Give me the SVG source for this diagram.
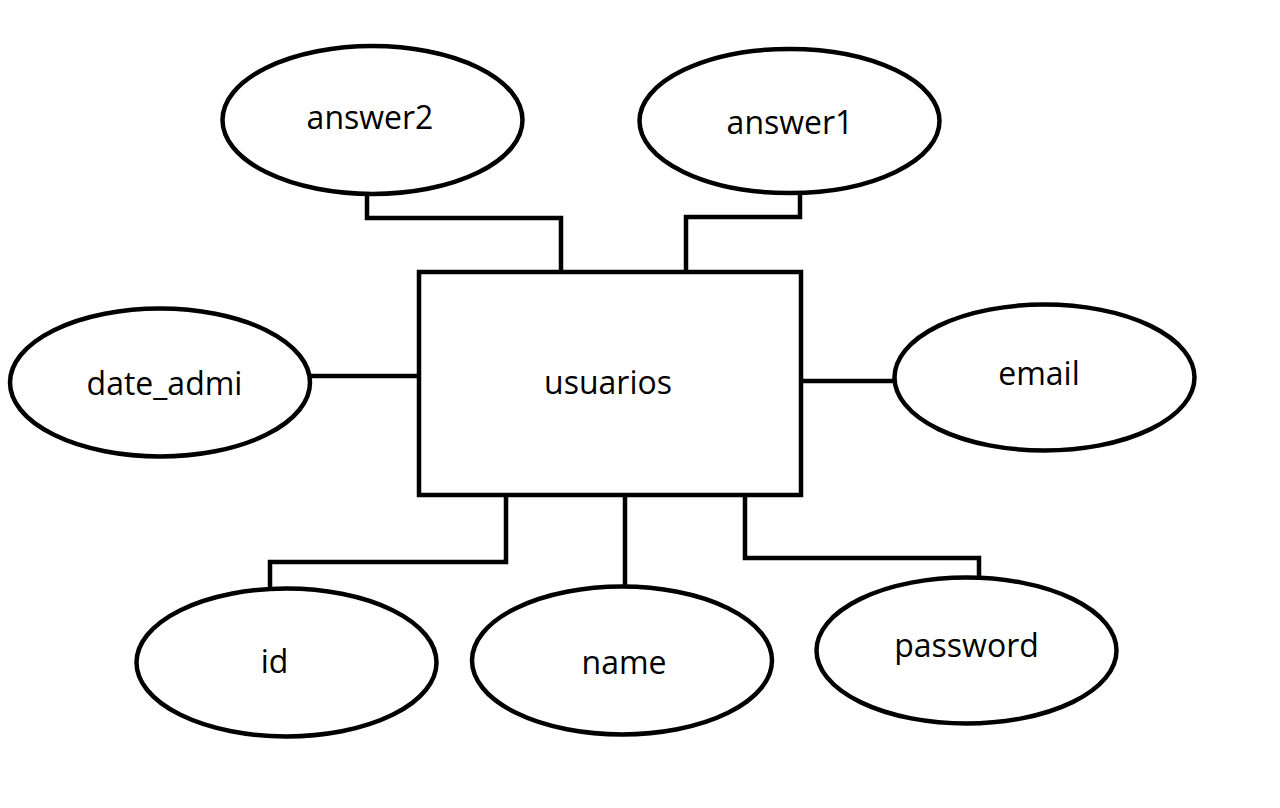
<svg xmlns="http://www.w3.org/2000/svg" width="1280" height="808" viewBox="0 0 1280 808">
<style>
.shape{fill:#fff;stroke:#000;stroke-width:4.5}
.conn{fill:none;stroke:#000;stroke-width:4.5;stroke-linejoin:miter;stroke-linecap:square}
.lbl{font-family:"Open Sans","Noto Sans","DejaVu Sans",sans-serif;font-size:32px;fill:#000;text-anchor:middle}
</style>
<rect width="1280" height="808" fill="#fff"/>
<g id="connectors">
<polyline class="conn" points="367,195 367,218 561,218 561,271"/>
<polyline class="conn" points="800,195 800,217 686,217 686,271"/>
<line class="conn" x1="311" y1="376" x2="419" y2="376"/>
<line class="conn" x1="802" y1="381" x2="893" y2="381"/>
<polyline class="conn" points="506,496 506,562 270,562 270,587"/>
<line class="conn" x1="625" y1="496" x2="625" y2="585"/>
<polyline class="conn" points="745,494 745,558 979,558 979,576"/>
</g>
<g id="usuarios">
<rect class="shape" x="419" y="272" width="382" height="223"/>
<text class="lbl" x="608" y="394">usuarios</text>
</g>
<g id="answer2">
<ellipse class="shape" cx="372.5" cy="120" rx="150" ry="74"/>
<text class="lbl" x="370" y="129">answer2</text>
</g>
<g id="answer1">
<ellipse class="shape" cx="789.5" cy="121" rx="150" ry="72"/>
<text class="lbl" x="790" y="134">answer1</text>
</g>
<g id="date_admi">
<ellipse class="shape" cx="160" cy="382.5" rx="150" ry="74"/>
<text class="lbl" x="164.5" y="395">date_admi</text>
</g>
<g id="email">
<ellipse class="shape" cx="1044.5" cy="377.5" rx="150" ry="73"/>
<text class="lbl" x="1039" y="385">email</text>
</g>
<g id="id">
<ellipse class="shape" cx="286.5" cy="662.5" rx="150" ry="74"/>
<text class="lbl" x="274.5" y="673">id</text>
</g>
<g id="name">
<ellipse class="shape" cx="622" cy="660.5" rx="150" ry="74"/>
<text class="lbl" x="624" y="674">name</text>
</g>
<g id="password">
<ellipse class="shape" cx="966.5" cy="650.5" rx="150" ry="73"/>
<text class="lbl" x="966.5" y="657">password</text>
</g>
</svg>
